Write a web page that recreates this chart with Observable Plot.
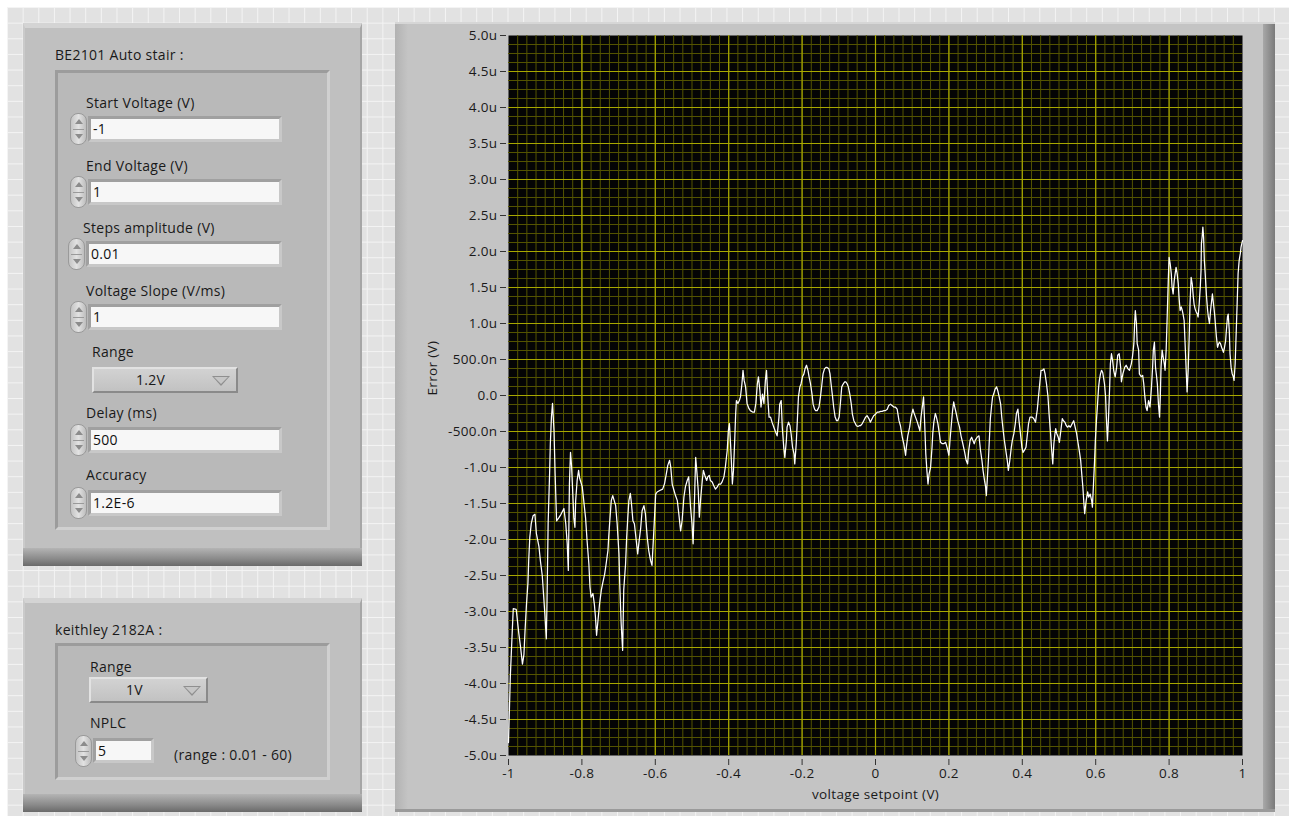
<!DOCTYPE html>
<html>
<head>
<meta charset="utf-8">
<script src="https://cdn.jsdelivr.net/npm/d3@7"></script>
<script src="https://cdn.jsdelivr.net/npm/@observablehq/plot@0.6"></script>
<style>
html,body{margin:0;padding:0;}
body{width:1289px;height:816px;overflow:hidden;background:#fff;font-family:"Open Sans","Noto Sans",sans-serif;color:#1a1a1a;}
#grid{position:absolute;left:7px;top:7px;width:1282px;height:809px;background-color:#e2e2e2;
  background-image:linear-gradient(to right,#f4f4f4 1px,transparent 1px),linear-gradient(to bottom,#f4f4f4 1px,transparent 1px);
  background-size:15.65px 15.65px;}
.abs{position:absolute;box-sizing:border-box;}
.panel{background:#c0c0c0;border-top:5px solid #d4d4d4;border-left:2px solid #cacaca;border-right:2px solid #a6a6a6;}
.panel .bot{position:absolute;left:-2px;right:-2px;bottom:0;height:18px;background:linear-gradient(#b4b4b4,#8a8a8a 60%,#6a6a6a);}
.inner{background:#b9b9b9;border-style:solid;border-width:3px;border-color:#9c9c9c #d0d0d0 #d0d0d0 #9c9c9c;}
.lbl{position:absolute;font-size:14px;letter-spacing:0.3px;line-height:16px;white-space:nowrap;color:#1a1a1a;}
.box{position:absolute;height:26px;background:#f7f7f7;border-style:solid;border-width:3px;border-color:#a0a0a0 #c8c8c8 #c8c8c8 #a0a0a0;font-size:14px;letter-spacing:0.3px;line-height:20px;padding-left:2px;box-sizing:border-box;color:#101010;}
.spin{position:absolute;width:17px;height:32px;border-radius:8px;background:linear-gradient(to right,#c4c4c4,#e2e2e2 50%,#bdbdbd);border:1px solid #9a9a9a;box-sizing:border-box;}
.spin:after{content:"";position:absolute;left:2px;right:2px;top:15px;height:1px;background:#9a9a9a;}
.spin .up{position:absolute;left:4px;top:5px;width:0;height:0;border-left:4px solid transparent;border-right:4px solid transparent;border-bottom:5px solid #8c8c8c;}
.spin .dn{position:absolute;left:4px;top:20px;width:0;height:0;border-left:4px solid transparent;border-right:4px solid transparent;border-top:5px solid #8c8c8c;}
.drop{position:absolute;height:26px;background:linear-gradient(#d2d2d2,#c2c2c2);border-style:solid;border-width:2px;border-color:#e2e2e2 #8a8a8a #8a8a8a #e2e2e2;box-sizing:border-box;font-size:14px;letter-spacing:0.3px;line-height:22px;}
.drop .tri{position:absolute;top:7px;width:0;height:0;border-left:9px solid transparent;border-right:9px solid transparent;border-top:10px solid #8f8f8f;}
.drop .tri:after{content:"";position:absolute;left:-7px;top:-9px;width:0;height:0;border-left:7px solid transparent;border-right:7px solid transparent;border-top:7px solid #c6c6c6;}
#gpanel{position:absolute;left:395px;top:22px;width:880px;height:790px;background:#c4c4c4;border-top:2px solid #d6d6d6;box-sizing:border-box;}
#gpanel .lb{position:absolute;left:0;top:0;bottom:0;width:13px;background:linear-gradient(to right,#b2b2b2,#c4c4c4);}
#gpanel .rb{position:absolute;right:0;top:0;bottom:0;width:12px;background:linear-gradient(to right,#a8a8a8,#7a7a7a);}
#gpanel .bb{position:absolute;left:0;right:0;bottom:0;height:3px;background:#9a9a9a;}
#chart{position:absolute;left:395px;top:22px;}
</style>
</head>
<body>
<div id="grid"></div>

<!-- BE2101 panel -->
<div class="abs panel" style="left:23px;top:23px;width:339px;height:543px;"><div class="bot"></div></div>
<div class="lbl" style="left:55px;top:47px;">BE2101 Auto stair :</div>
<div class="abs inner" style="left:55px;top:70px;width:275px;height:460px;"></div>

<div class="lbl" style="left:86px;top:95px;">Start Voltage (V)</div>
<div class="spin" style="left:70px;top:113px;"><div class="up"></div><div class="dn"></div></div>
<div class="box" style="left:88px;top:116px;width:194px;">-1</div>

<div class="lbl" style="left:86px;top:158px;">End Voltage (V)</div>
<div class="spin" style="left:70px;top:176px;"><div class="up"></div><div class="dn"></div></div>
<div class="box" style="left:88px;top:179px;width:194px;">1</div>

<div class="lbl" style="left:83px;top:220px;">Steps amplitude (V)</div>
<div class="spin" style="left:68px;top:238px;"><div class="up"></div><div class="dn"></div></div>
<div class="box" style="left:86px;top:241px;width:196px;">0.01</div>

<div class="lbl" style="left:86px;top:283px;">Voltage Slope (V/ms)</div>
<div class="spin" style="left:70px;top:301px;"><div class="up"></div><div class="dn"></div></div>
<div class="box" style="left:88px;top:304px;width:194px;">1</div>

<div class="lbl" style="left:92px;top:344px;">Range</div>
<div class="drop" style="left:92px;top:367px;width:146px;"><span style="position:absolute;left:42px;">1.2V</span><div class="tri" style="left:118px;"></div></div>

<div class="lbl" style="left:86px;top:405px;">Delay (ms)</div>
<div class="spin" style="left:70px;top:424px;"><div class="up"></div><div class="dn"></div></div>
<div class="box" style="left:88px;top:427px;width:194px;">500</div>

<div class="lbl" style="left:86px;top:467px;">Accuracy</div>
<div class="spin" style="left:70px;top:487px;"><div class="up"></div><div class="dn"></div></div>
<div class="box" style="left:88px;top:490px;width:194px;">1.2E-6</div>

<!-- keithley panel -->
<div class="abs panel" style="left:23px;top:598px;width:339px;height:214px;"><div class="bot"></div></div>
<div class="lbl" style="left:55px;top:622px;">keithley 2182A :</div>
<div class="abs inner" style="left:55px;top:643px;width:275px;height:137px;"></div>
<div class="lbl" style="left:90px;top:659px;">Range</div>
<div class="drop" style="left:89px;top:677px;width:119px;"><span style="position:absolute;left:35px;">1V</span><div class="tri" style="left:92px;"></div></div>
<div class="lbl" style="left:90px;top:715px;">NPLC</div>
<div class="spin" style="left:75px;top:735px;"><div class="up"></div><div class="dn"></div></div>
<div class="box" style="left:93px;top:738px;width:61px;height:25px;">5</div>
<div class="lbl" style="left:174px;top:747px;">(range : 0.01 - 60)</div>

<!-- graph panel -->
<div id="gpanel"><div class="lb"></div><div class="rb"></div><div class="bb"></div></div>
<div id="chart"></div>

<script>
// x tick values (V) and their labels
const xTicks = [-1, -0.8, -0.6, -0.4, -0.2, 0, 0.2, 0.4, 0.6, 0.8, 1];
const xTickLabels = ["-1", "-0.8", "-0.6", "-0.4", "-0.2", "0", "0.2", "0.4", "0.6", "0.8", "1"];
// y tick values (µV) and their labels
const yTicks = [5, 4.5, 4, 3.5, 3, 2.5, 2, 1.5, 1, 0.5, 0, -0.5, -1, -1.5, -2, -2.5, -3, -3.5, -4, -4.5, -5];
const yTickLabels = ["5.0u", "4.5u", "4.0u", "3.5u", "3.0u", "2.5u", "2.0u", "1.5u", "1.0u", "500.0n", "0.0",
  "-500.0n", "-1.0u", "-1.5u", "-2.0u", "-2.5u", "-3.0u", "-3.5u", "-4.0u", "-4.5u", "-5.0u"];

// Error trace: [voltage setpoint (V), error (µV)]
const scanA = [[-1.000,-4.82],[-0.995,-3.90],[-0.990,-3.30],[-0.987,-2.96],[-0.979,-2.97],[-0.972,-3.30],[-0.967,-3.50],[-0.962,-3.73],[-0.958,-3.60],[-0.955,-3.27],[-0.951,-2.90],[-0.947,-2.60],[-0.945,-2.30],[-0.942,-1.97],[-0.938,-1.78],[-0.933,-1.67],[-0.928,-1.65],[-0.924,-1.92],[-0.917,-2.10],[-0.913,-2.30],[-0.908,-2.50],[-0.904,-2.80],[-0.901,-3.03],[-0.897,-3.38],[-0.895,-2.85],[-0.892,-1.78],[-0.888,-1.08],[-0.886,-0.67],[-0.883,-0.30],[-0.880,-0.11],[-0.876,-0.49],[-0.873,-1.08],[-0.869,-1.74],[-0.863,-1.70],[-0.857,-1.65],[-0.849,-1.57],[-0.844,-1.78],[-0.840,-2.06],[-0.837,-2.43],[-0.834,-1.23],[-0.831,-0.79],[-0.828,-0.99],[-0.826,-1.23],[-0.822,-1.70],[-0.819,-1.83],[-0.817,-1.46],[-0.813,-1.18],[-0.809,-1.04],[-0.806,-1.15],[-0.799,-1.27],[-0.795,-1.46],[-0.790,-1.70],[-0.786,-2.01],[-0.781,-2.34],[-0.778,-2.66],[-0.775,-2.80],[-0.770,-2.75],[-0.766,-2.90],[-0.763,-3.08],[-0.760,-3.33],[-0.757,-3.17],[-0.752,-2.90],[-0.747,-2.70],[-0.743,-2.60],[-0.738,-2.48],[-0.734,-2.34],[-0.729,-2.15],[-0.727,-1.97],[-0.724,-1.74],[-0.720,-1.46],[-0.716,-1.39],[-0.712,-1.46],[-0.708,-1.53],[-0.704,-1.78],[-0.699,-2.20],[-0.697,-2.60],[-0.693,-3.17],[-0.689,-3.54],[-0.686,-2.70],[-0.681,-2.34],[-0.678,-1.97],[-0.675,-1.70],[-0.672,-1.46],[-0.668,-1.36],[-0.665,-1.50],[-0.661,-1.74],[-0.657,-1.78],[-0.652,-2.01],[-0.648,-2.20],[-0.645,-2.06],[-0.640,-1.85]];
const scanB = [[-0.636,-1.60],[-0.631,-1.53],[-0.627,-1.64],[-0.622,-1.97],[-0.618,-2.15],[-0.613,-2.29],[-0.609,-2.36],[-0.604,-1.88],[-0.599,-1.37],[-0.595,-1.34],[-0.588,-1.32],[-0.580,-1.30],[-0.575,-1.23],[-0.570,-1.09],[-0.566,-0.97],[-0.561,-0.90],[-0.558,-0.99],[-0.554,-1.23],[-0.549,-1.32],[-0.545,-1.39],[-0.540,-1.46],[-0.536,-1.64],[-0.531,-1.88],[-0.527,-1.74],[-0.522,-1.41],[-0.518,-1.27],[-0.513,-1.18],[-0.509,-1.13],[-0.504,-1.55],[-0.500,-1.78],[-0.497,-2.06],[-0.493,-1.41],[-0.490,-0.86],[-0.487,-1.04],[-0.483,-1.32],[-0.480,-1.69],[-0.476,-1.41],[-0.472,-1.18],[-0.469,-1.04],[-0.465,-1.11],[-0.460,-1.18],[-0.457,-1.13],[-0.453,-1.11],[-0.450,-1.18],[-0.445,-1.20],[-0.441,-1.25],[-0.436,-1.30],[-0.431,-1.27],[-0.427,-1.23],[-0.422,-1.23],[-0.418,-1.20],[-0.413,-1.13],[-0.409,-0.99],[-0.404,-0.76],[-0.401,-0.49],[-0.398,-0.39],[-0.395,-0.67],[-0.392,-0.99],[-0.390,-1.23],[-0.387,-1.04],[-0.384,-0.67],[-0.381,-0.25],[-0.379,-0.07],[-0.375,-0.11],[-0.371,-0.07],[-0.368,-0.02],[-0.364,0.16],[-0.361,0.35],[-0.358,0.21],[-0.354,0.12],[-0.350,-0.11],[-0.345,-0.18],[-0.341,-0.21],[-0.335,-0.23],[-0.330,-0.23],[-0.326,-0.11],[-0.322,0.16],[-0.319,0.26],[-0.315,0.07],[-0.312,-0.16],[-0.308,0.02],[-0.304,-0.11],[-0.300,0.21],[-0.297,0.35],[-0.293,-0.07],[-0.290,-0.30]];
const scanC = [[-0.286,-0.30],[-0.282,-0.37],[-0.277,-0.44],[-0.272,-0.51],[-0.268,-0.56],[-0.263,-0.30],[-0.261,-0.12],[-0.257,-0.07],[-0.254,-0.44],[-0.250,-0.72],[-0.247,-0.86],[-0.243,-0.63],[-0.241,-0.44],[-0.237,-0.37],[-0.233,-0.42],[-0.230,-0.53],[-0.226,-0.72],[-0.222,-0.81],[-0.220,-0.95],[-0.216,-0.67],[-0.213,-0.35],[-0.210,-0.02],[-0.206,0.12],[-0.203,0.16],[-0.199,0.26],[-0.195,0.30],[-0.192,0.37],[-0.188,0.42],[-0.184,0.35],[-0.181,0.26],[-0.177,0.16],[-0.173,0.02],[-0.170,-0.12],[-0.166,-0.19],[-0.163,-0.21],[-0.159,-0.21],[-0.154,-0.16],[-0.150,-0.02],[-0.146,0.16],[-0.143,0.30],[-0.139,0.37],[-0.135,0.39],[-0.132,0.39],[-0.127,0.37],[-0.124,0.30],[-0.121,0.16],[-0.117,-0.02],[-0.114,-0.16],[-0.110,-0.30],[-0.106,-0.35],[-0.103,-0.35],[-0.099,-0.30],[-0.095,-0.07],[-0.092,0.12],[-0.088,0.16],[-0.084,0.19],[-0.081,0.19],[-0.077,0.16],[-0.074,0.12],[-0.070,0.02],[-0.066,-0.12],[-0.063,-0.26],[-0.059,-0.35],[-0.055,-0.39],[-0.052,-0.42],[-0.048,-0.43],[-0.044,-0.42],[-0.041,-0.42],[-0.036,-0.39],[-0.032,-0.35],[-0.027,-0.30],[-0.023,-0.28],[-0.018,-0.32],[-0.014,-0.37],[-0.009,-0.32],[-0.005,-0.28],[0.000,-0.26],[0.005,-0.23],[0.009,-0.23],[0.014,-0.22],[0.018,-0.22],[0.023,-0.21],[0.027,-0.21],[0.032,-0.19],[0.036,-0.14],[0.041,-0.12],[0.045,-0.14],[0.050,-0.16],[0.054,-0.16],[0.059,-0.19],[0.064,-0.35]];
const scanD = [[0.068,-0.42],[0.073,-0.58],[0.077,-0.67],[0.082,-0.83],[0.084,-0.72],[0.088,-0.56],[0.093,-0.44],[0.097,-0.30],[0.102,-0.19],[0.104,-0.23],[0.109,-0.30],[0.114,-0.37],[0.118,-0.44],[0.121,-0.49],[0.124,-0.30],[0.128,-0.14],[0.131,-0.02],[0.134,-0.39],[0.137,-0.81],[0.140,-1.04],[0.143,-1.23],[0.146,-1.09],[0.150,-1.00],[0.154,-0.72],[0.156,-0.53],[0.159,-0.37],[0.163,-0.25],[0.166,-0.30],[0.170,-0.39],[0.174,-0.53],[0.177,-0.65],[0.182,-0.67],[0.186,-0.67],[0.191,-0.65],[0.195,-0.72],[0.200,-0.83],[0.203,-0.62],[0.206,-0.44],[0.210,-0.21],[0.213,-0.09],[0.216,-0.16],[0.220,-0.25],[0.224,-0.35],[0.229,-0.44],[0.233,-0.56],[0.238,-0.67],[0.243,-0.79],[0.247,-0.90],[0.251,-0.95],[0.254,-0.76],[0.258,-0.62],[0.262,-0.58],[0.265,-0.62],[0.269,-0.67],[0.272,-0.62],[0.277,-0.58],[0.282,-0.56],[0.286,-0.76],[0.290,-0.90],[0.293,-1.04],[0.297,-1.18],[0.300,-1.27],[0.302,-1.39],[0.305,-1.13],[0.308,-0.86],[0.311,-0.53],[0.313,-0.32],[0.316,-0.16],[0.319,-0.02],[0.322,0.02],[0.326,0.09],[0.330,0.12],[0.333,0.07],[0.337,-0.02],[0.341,-0.12],[0.344,-0.30],[0.348,-0.49],[0.351,-0.62],[0.355,-0.76],[0.359,-0.90],[0.362,-1.04],[0.366,-0.90],[0.370,-0.72],[0.373,-0.62],[0.377,-0.53],[0.381,-0.39],[0.384,-0.25],[0.388,-0.19],[0.391,-0.35],[0.395,-0.53],[0.399,-0.72],[0.402,-0.79],[0.406,-0.76],[0.410,-0.72],[0.413,-0.58],[0.417,-0.39],[0.421,-0.30]];
const scanE = [[0.427,-0.30],[0.431,-0.32],[0.436,-0.37],[0.441,-0.19],[0.444,-0.02],[0.448,0.19],[0.451,0.35],[0.455,0.35],[0.459,0.37],[0.462,0.30],[0.466,0.16],[0.470,-0.02],[0.473,-0.26],[0.477,-0.53],[0.480,-0.76],[0.483,-0.95],[0.486,-0.67],[0.489,-0.53],[0.491,-0.46],[0.494,-0.53],[0.498,-0.58],[0.501,-0.65],[0.505,-0.49],[0.509,-0.32],[0.512,-0.35],[0.516,-0.37],[0.520,-0.42],[0.523,-0.44],[0.527,-0.42],[0.531,-0.44],[0.536,-0.39],[0.540,-0.35],[0.544,-0.44],[0.548,-0.53],[0.551,-0.63],[0.555,-0.76],[0.559,-0.90],[0.562,-1.09],[0.565,-1.27],[0.568,-1.51],[0.570,-1.64],[0.574,-1.46],[0.578,-1.34],[0.581,-1.41],[0.585,-1.37],[0.589,-1.46],[0.591,-1.55],[0.594,-1.23],[0.597,-0.90],[0.599,-0.63],[0.602,-0.35],[0.605,-0.12],[0.608,0.12],[0.610,0.21],[0.613,0.30],[0.616,0.35],[0.619,0.32],[0.621,0.26],[0.624,0.16],[0.627,-0.02],[0.629,-0.30],[0.632,-0.63],[0.635,-0.30],[0.638,0.12],[0.640,0.44],[0.643,0.58],[0.646,0.49],[0.649,0.35],[0.653,0.26],[0.657,0.39],[0.660,0.56],[0.664,0.58]];
const scanF = [[0.668,0.39],[0.670,0.19],[0.674,0.30],[0.679,0.39],[0.683,0.42],[0.688,0.37],[0.692,0.35],[0.697,0.44],[0.700,0.53],[0.704,0.72],[0.706,1.00],[0.708,1.18],[0.711,1.00],[0.713,0.72],[0.717,0.63],[0.719,0.30],[0.724,0.26],[0.728,0.28],[0.731,0.16],[0.734,-0.02],[0.737,-0.16],[0.740,-0.21],[0.744,-0.07],[0.748,-0.16],[0.752,0.12],[0.755,0.39],[0.757,0.63],[0.760,0.74],[0.763,0.39],[0.766,0.26],[0.768,0.16],[0.771,-0.12],[0.774,-0.30],[0.776,-0.02],[0.778,0.39],[0.781,0.63],[0.784,0.53],[0.787,0.44],[0.789,0.35],[0.792,0.63],[0.795,1.13],[0.798,1.64],[0.800,1.92],[0.803,1.83],[0.806,1.69],[0.808,1.51],[0.811,1.41],[0.814,1.60],[0.817,1.71],[0.819,1.78],[0.822,1.69],[0.825,1.55],[0.827,1.37],[0.830,1.18],[0.833,1.23],[0.836,1.18],[0.838,1.13],[0.841,1.04],[0.844,0.67],[0.847,0.30],[0.849,0.05],[0.852,0.35],[0.855,0.86],[0.857,1.27],[0.860,1.64],[0.863,1.55],[0.866,1.37],[0.868,1.27],[0.871,1.20],[0.874,1.16],[0.877,1.13],[0.879,1.09],[0.882,1.27],[0.885,1.51],[0.887,1.74],[0.888,2.11],[0.890,2.20],[0.892,2.34],[0.894,2.20],[0.896,1.88],[0.899,1.64],[0.902,1.37],[0.905,1.18],[0.907,1.09],[0.910,1.00],[0.913,1.18],[0.916,1.32],[0.918,1.41],[0.921,1.27],[0.924,1.13],[0.926,1.00],[0.929,0.81],[0.932,0.67],[0.935,0.72],[0.937,0.74],[0.940,0.72],[0.943,0.67],[0.946,0.63],[0.948,0.60],[0.951,0.67],[0.954,0.76],[0.956,0.90],[0.959,1.09],[0.961,1.13],[0.964,0.90],[0.966,0.58],[0.969,0.39],[0.972,0.30],[0.975,0.26],[0.977,0.21],[0.980,0.44],[0.983,0.90],[0.986,1.37],[0.988,1.69],[0.991,1.88],[0.994,1.97],[0.996,2.06],[1.000,2.15]];

const trace = [...scanA, ...scanB, ...scanC, ...scanD, ...scanE, ...scanF].map(([v, e]) => ({v, e}));

const xLabel = new Map(xTicks.map((t, i) => [t, xTickLabels[i]]));
const yLabel = new Map(yTicks.map((t, i) => [t, yTickLabels[i]]));
// grid lines inside the frame: 8 minor divisions per major x step, 4 per major y step
const xMinor = d3.range(1, 80).map(i => -1 + i * 0.025);
const yMinor = d3.range(1, 80).map(i => -5 + i * 0.125);
const xMajor = xTicks.slice(1, -1);
const yMajor = yTicks.slice(1, -1);

const chart = Plot.plot({
  width: 880,
  height: 790,
  marginLeft: 113,
  marginRight: 33,
  marginTop: 13,
  marginBottom: 57,
  x: {domain: [-1, 1]},
  y: {domain: [-5, 5]},
  style: {background: "transparent", fontFamily: "'Open Sans','Noto Sans',sans-serif", fontSize: "13.5px", letterSpacing: "0.35px", color: "#1a1a1a"},
  marks: [
    Plot.frame({fill: "#050505", stroke: null}),
    Plot.ruleX(xMinor, {stroke: "#545400", strokeWidth: 1}),
    Plot.ruleY(yMinor, {stroke: "#545400", strokeWidth: 1}),
    Plot.ruleX(xMajor, {stroke: "#a8a800", strokeWidth: 1.2}),
    Plot.ruleY(yMajor, {stroke: "#a8a800", strokeWidth: 1.2}),
    Plot.line(trace, {x: "v", y: "e", stroke: "#ffffff", strokeWidth: 1.25}),
    Plot.axisX({ticks: xTicks, tickFormat: d => xLabel.get(d), tickSize: 6, tickPadding: 3, dy: 4, label: null, stroke: "#333"}),
    Plot.axisY({ticks: yTicks, tickFormat: d => yLabel.get(d), tickSize: 6, tickPadding: 3, dx: -2, label: null, stroke: "#333"}),
    Plot.text(["Error (V)"], {frameAnchor: "left", dx: -76, rotate: -90, fill: "#1a1a1a", fontSize: 13.5}),
    Plot.text(["voltage setpoint (V)"], {frameAnchor: "bottom", dy: 43, fill: "#1a1a1a", fontSize: 13.5})
  ]
});
document.getElementById("chart").appendChild(chart);
</script>
</body>
</html>
